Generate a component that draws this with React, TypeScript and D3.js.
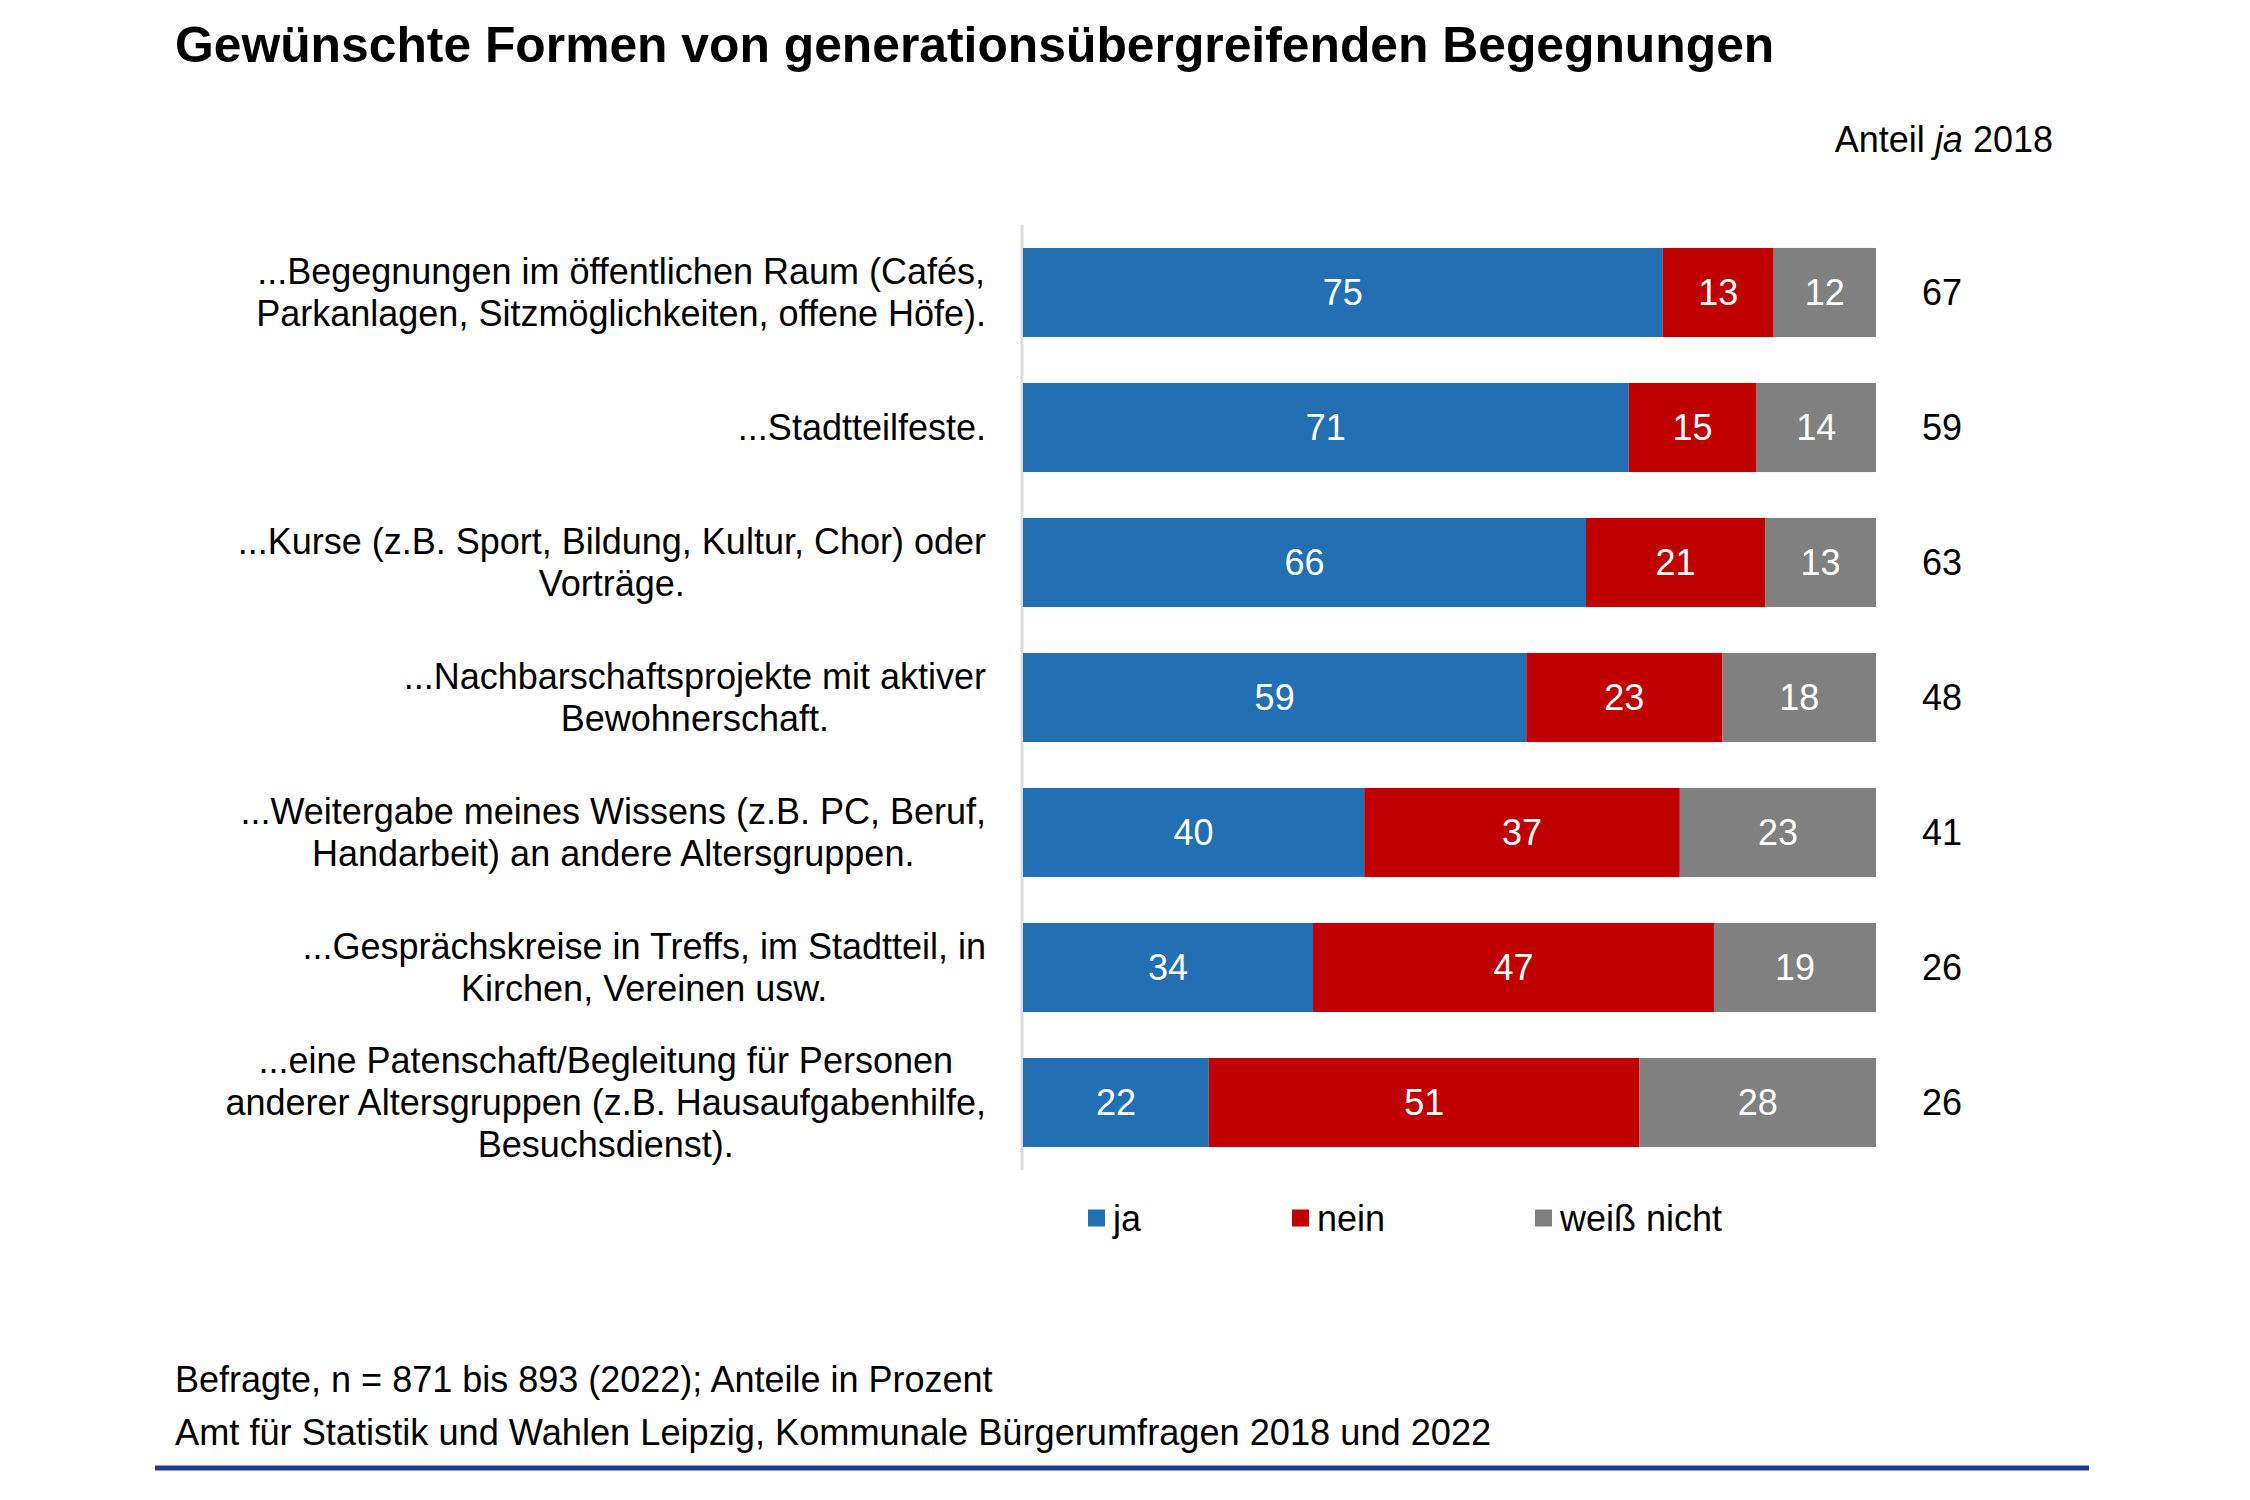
import React, { useEffect, useRef } from "react";
import * as d3 from "d3";

const categories: string[][] = [
  ["...Begegnungen im öffentlichen Raum (Cafés,", "Parkanlagen, Sitzmöglichkeiten, offene Höfe)."],
  ["...Stadtteilfeste."],
  ["...Kurse (z.B. Sport, Bildung, Kultur, Chor) oder", "Vorträge."],
  ["...Nachbarschaftsprojekte mit aktiver", "Bewohnerschaft."],
  ["...Weitergabe meines Wissens (z.B. PC, Beruf,", "Handarbeit) an andere Altersgruppen."],
  ["...Gesprächskreise in Treffs, im Stadtteil, in", "Kirchen, Vereinen usw."],
  ["...eine Patenschaft/Begleitung für Personen", "anderer Altersgruppen (z.B. Hausaufgabenhilfe,", "Besuchsdienst)."],
];
const ja = [75, 71, 66, 59, 40, 34, 22];
const nein = [13, 15, 21, 23, 37, 47, 51];
const weissNicht = [12, 14, 13, 18, 23, 19, 28];
const anteilJa2018 = [67, 59, 63, 48, 41, 26, 26];
const seriesNames = ["ja", "nein", "weiß nicht"];
const seriesColors = ["#2270b3", "#c00000", "#808080"];

const title = "Gewünschte Formen von generationsübergreifenden Begegnungen";
const footer1 = "Befragte, n = 871 bis 893 (2022); Anteile in Prozent";
const footer2 = "Amt für Statistik und Wahlen Leipzig, Kommunale Bürgerumfragen 2018 und 2022";

const W = 2250;
const H = 1500;
const FONT = "'Liberation Sans', Arial, sans-serif";

export default function App() {
  const ref = useRef<SVGSVGElement>(null);

  useEffect(() => {
    const svg = d3.select(ref.current);
    svg.selectAll("*").remove();
    svg.append("rect").attr("width", W).attr("height", H).attr("fill", "#fff");

    const idx = d3.range(categories.length);
    const y = d3.scaleBand<number>().domain(idx).range([225, 1170]).paddingInner(0.34).paddingOuter(0.17);
    const x = d3.scaleLinear().domain([0, 1]).range([1023, 1876]);

    // title
    svg.append("text").attr("x", 175).attr("y", 62).attr("font-family", FONT)
      .attr("font-weight", "bold").attr("font-size", 49.8).attr("fill", "#000").text(title);

    // Anteil ja 2018
    const at = svg.append("text").attr("x", 2053).attr("y", 152).attr("text-anchor", "end")
      .attr("font-family", FONT).attr("font-size", 36).attr("fill", "#000");
    at.append("tspan").text("Anteil ");
    at.append("tspan").attr("font-style", "italic").text("ja");
    at.append("tspan").text(" 2018");

    // axis line
    svg.append("line").attr("x1", 1022).attr("x2", 1022).attr("y1", 225).attr("y2", 1170)
      .attr("stroke", "#dcdcdc").attr("stroke-width", 3);

    const rows = idx.map((i) => [ja[i], nein[i], weissNicht[i]]);
    const bandH = y.bandwidth();

    rows.forEach((vals, i) => {
      const total = d3.sum(vals);
      let acc = 0;
      const y0 = y(i)!;
      vals.forEach((v, s) => {
        const x0 = x(acc / total);
        const x1 = x((acc + v) / total);
        acc += v;
        svg.append("rect").attr("x", x0).attr("y", y0).attr("width", x1 - x0).attr("height", bandH)
          .attr("fill", seriesColors[s]);
        svg.append("text").attr("x", (x0 + x1) / 2).attr("y", y0 + bandH / 2).attr("dy", "0.35em")
          .attr("text-anchor", "middle").attr("font-family", FONT).attr("font-size", 36)
          .attr("fill", "#fff").text(String(v));
      });
      // right value
      svg.append("text").attr("x", 1942).attr("y", y0 + bandH / 2).attr("dy", "0.35em")
        .attr("text-anchor", "middle").attr("font-family", FONT).attr("font-size", 36)
        .attr("fill", "#000").text(String(anteilJa2018[i]));

      // category label block: right aligned block, centered lines
      const lines = categories[i];
      const g = svg.append("g");
      const tNodes = lines.map((l, li) =>
        g.append("text").attr("font-family", FONT).attr("font-size", 36).attr("fill", "#000")
          .attr("text-anchor", "middle").attr("dy", "0.35em")
          .attr("y", y0 + bandH / 2 + (li - (lines.length - 1) / 2) * 41.8).text(l)
      );
      const maxW = d3.max(tNodes, (t) => (t.node() as SVGTextElement).getComputedTextLength()) || 0;
      const right = 986;
      tNodes.forEach((t) => t.attr("x", right - maxW / 2));
    });

    // legend
    const legendX = [1088, 1292, 1535];
    seriesNames.forEach((n, s) => {
      svg.append("rect").attr("x", legendX[s]).attr("y", 1218 - 8.5).attr("width", 17).attr("height", 17)
        .attr("fill", seriesColors[s]);
      svg.append("text").attr("x", legendX[s] + 25).attr("y", 1218).attr("dy", "0.35em")
        .attr("font-family", FONT).attr("font-size", 36).attr("fill", "#000").text(n);
    });

    // footer
    svg.append("text").attr("x", 175).attr("y", 1392).attr("font-family", FONT).attr("font-size", 36)
      .attr("fill", "#000").text(footer1);
    svg.append("text").attr("x", 175).attr("y", 1445).attr("font-family", FONT).attr("font-size", 36.2)
      .attr("fill", "#000").text(footer2);
    svg.append("line").attr("x1", 155).attr("x2", 2089).attr("y1", 1468).attr("y2", 1468)
      .attr("stroke", "#1f3c95").attr("stroke-width", 5);
  }, []);

  return (
    <div style={{ position: "absolute", left: 0, top: 0 }}>
      <svg ref={ref} width={W} height={H} style={{ display: "block" }} />
    </div>
  );
}
